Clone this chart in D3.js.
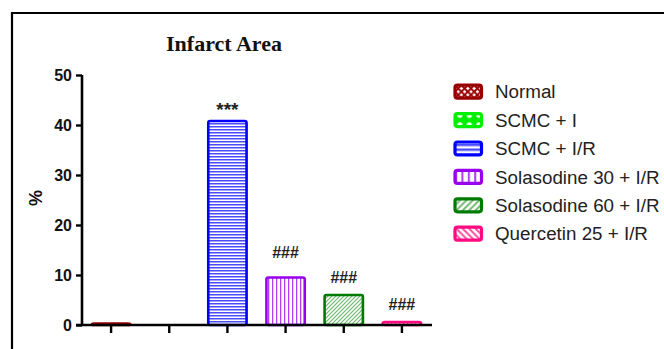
<!DOCTYPE html>
<html>
<head>
<meta charset="utf-8">
<script src="https://cdn.jsdelivr.net/npm/d3@7"></script>
<style>
  html, body { margin: 0; padding: 0; background: #fff; }
  svg { display: block; }
</style>
</head>
<body>
<svg id="chart" width="664" height="349"></svg>
<script>
// Groups and mean infarct area (% of area at risk)
const groups = ["Normal", "SCMC + I", "SCMC + I/R", "Solasodine 30 + I/R", "Solasodine 60 + I/R", "Quercetin 25 + I/R"];
const infarct = [0.3, 0, 40.8, 9.5, 6.0, 0.6];
// Significance markers and the height (in %) at which each is printed
const marks = ["", "", "***", "###", "###", "###"];
const markAt = [0, 0, 41.8, 13.5, 8.5, 3.1];
const yTicks = [0, 10, 20, 30, 40, 50];

const colors = ["#990000", "#00ee00", "#0000ff", "#9900ee", "#007a00", "#ff0a80"];
const patternIds = ["p-normal", "p-scmci", "p-scmcir", "p-sol30", "p-sol60", "p-quer"];

const svg = d3.select("#chart");
const defs = svg.append("defs");

// Fill patterns for each group; legend swatches use a coarser copy
function pat(id, w, h, draw) {
  [["", 1], ["-lg", 1.6]].forEach(([suffix, s]) => {
    const p = defs.append("pattern").attr("id", id + suffix).attr("patternUnits", "userSpaceOnUse")
      .attr("width", w).attr("height", h)
      .attr("patternTransform", `scale(${s})`);
    p.append("rect").attr("width", w).attr("height", h).attr("fill", "#fff");
    draw(p);
  });
}
pat("p-normal", 4, 4, p => {
  p.append("path").attr("d", "M0,0L4,4M4,0L0,4").attr("stroke", colors[0]).attr("stroke-width", 1.2);
});
pat("p-scmci", 6, 6, p => {
  p.append("rect").attr("width", 6).attr("height", 6).attr("fill", colors[1]);
  p.append("circle").attr("cx", 3).attr("cy", 3).attr("r", 1.6).attr("fill", "#fff");
});
pat("p-scmcir", 4, 3, p => {
  p.append("rect").attr("y", 0).attr("width", 4).attr("height", 1.5).attr("fill", "#4a4aff");
});
pat("p-sol30", 4, 4, p => {
  p.append("rect").attr("x", 0).attr("width", 1.3).attr("height", 4).attr("fill", "#b040f0");
});
pat("p-sol60", 4, 4, p => {
  p.append("path").attr("d", "M-1,5L5,-1M-1,1L1,-1M3,5L5,3").attr("stroke", "#6fb86f").attr("stroke-width", 1.2);
});
pat("p-quer", 4, 4, p => {
  p.append("path").attr("d", "M-1,-1L5,5M-1,3L1,5M3,-1L5,1").attr("stroke", "#ff4aa0").attr("stroke-width", 1.2);
});

// Outer frame
svg.append("path").attr("d", "M12,349V13H664").attr("fill", "none").attr("stroke", "#000").attr("stroke-width", 2.2);

const x = d3.scaleBand().domain(groups).range([82, 431]).paddingInner(0.3).paddingOuter(0.15);
const y = d3.scaleLinear().domain([0, 50]).range([325, 75]);

// Title
svg.append("text").attr("x", 224).attr("y", 51).attr("text-anchor", "middle")
  .attr("font-family", "'Liberation Serif', 'Times New Roman', serif").attr("font-weight", "bold")
  .attr("font-size", 22).attr("fill", "#111").text("Infarct Area");

// Bars
svg.append("g").selectAll("rect").data(groups).join("rect")
  .attr("x", d => x(d) + 1.2)
  .attr("width", x.bandwidth() - 2.4)
  .attr("y", (d, i) => y(infarct[i]))
  .attr("height", (d, i) => y(0) - y(infarct[i]))
  .attr("rx", 2)
  .attr("fill", (d, i) => `url(#${patternIds[i]})`)
  .attr("stroke", (d, i) => colors[i])
  .attr("stroke-width", (d, i) => infarct[i] > 0 ? 2.6 : 0);

// Significance markers
svg.append("g").selectAll("text").data(groups).join("text")
  .attr("x", d => x(d) + x.bandwidth() / 2)
  .attr("y", (d, i) => y(markAt[i]))
  .attr("text-anchor", "middle")
  .attr("font-family", "'Liberation Sans', Arial, sans-serif").attr("font-weight", "bold")
  .attr("font-size", (d, i) => marks[i] === "***" ? 19 : 16).attr("fill", "#222")
  .text((d, i) => marks[i]);

// Y axis
const yAxis = svg.append("g").attr("transform", "translate(82,0)")
  .call(d3.axisLeft(y).tickValues(yTicks).tickSize(6).tickPadding(4));
yAxis.select(".domain").attr("stroke-width", 2.6).attr("d", `M0,${y(50)}V${y(0)}`);
yAxis.selectAll(".tick line").attr("stroke-width", 2.4);
yAxis.selectAll(".tick text").attr("font-family", "'Liberation Sans', Arial, sans-serif")
  .attr("font-weight", "bold").attr("font-size", 16).attr("fill", "#111");

// X axis (unlabelled ticks at bar centres)
const xAxis = svg.append("g").attr("transform", `translate(0,${y(0)})`)
  .call(d3.axisBottom(x).tickSize(8).tickFormat(""));
xAxis.select(".domain").attr("stroke-width", 2.6).attr("d", "M76,0H432");
xAxis.selectAll(".tick line").attr("stroke-width", 2.4);

// Y axis title
svg.append("text").attr("transform", "translate(42,198) rotate(-90)")
  .attr("text-anchor", "middle")
  .attr("font-family", "'Liberation Sans', Arial, sans-serif").attr("font-weight", "bold")
  .attr("font-size", 18).attr("fill", "#111").text("%");

// Legend
const legend = svg.append("g").selectAll("g").data(groups).join("g")
  .attr("transform", (d, i) => `translate(455,${91.7 + i * 28.4})`);
legend.append("rect").attr("x", 0).attr("y", -6.5).attr("width", 26.5).attr("height", 13).attr("rx", 2.5)
  .attr("fill", (d, i) => `url(#${patternIds[i]}-lg)`)
  .attr("stroke", (d, i) => colors[i]).attr("stroke-width", 3.2);
legend.append("text").attr("x", 40).attr("y", 6.6)
  .attr("font-family", "'Liberation Sans', Arial, sans-serif")
  .attr("font-size", 18.8).attr("fill", "#222").text(d => d);
</script>
</body>
</html>
